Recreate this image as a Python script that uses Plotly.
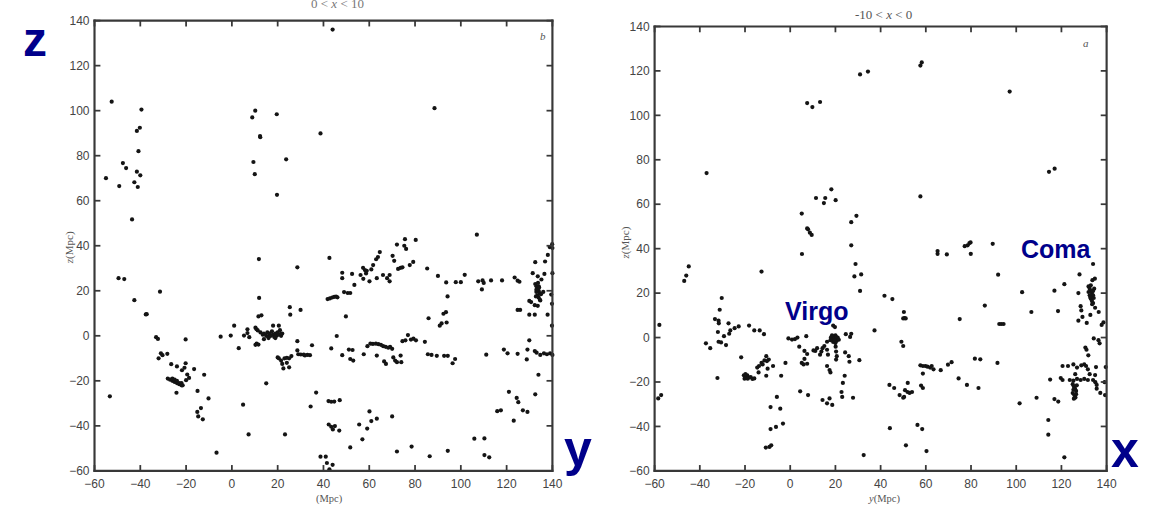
import plotly.graph_objects as go

# Galaxy positions (y, z) in Mpc for the slice 0 < x < 10 (panel b)
b_west_wall = [(-52.5, 104), (-39.5, 100.5), (-40.2, 92.4), (-41.5, 91), (-40.8, 82), (-47.6, 76.7),
               (-46.2, 74.5), (-55, 70), (-41.5, 72.9), (-40, 71.3), (-42.6, 68.2), (-41.1, 66.1),
               (-49.2, 66.5), (-43.6, 51.7), (-49.5, 25.6), (-47, 25.2), (-42.6, 15.8), (-37.6, 9.5),
               (-37.2, 9.6), (-31.4, 19.6), (-33.1, -0.6), (-32.3, -1.4), (-31, -7.8), (-32, -10),
               (-30.3, -8.6), (-28.2, -8), (-26.5, -12.6), (-24, -13.6), (-21.8, -15.3), (-20.2, -1.6),
               (-20.2, -12.2), (-20.7, -14.2), (-19.5, -17.2), (-18.7, -18.7), (-20, -19.7), (-16.5, -14.8),
               (-28, -19), (-27, -19.5), (-26, -19), (-26, -20), (-25, -20.5), (-25, -19.5), (-24, -21),
               (-24, -20), (-23, -21.5), (-23, -21), (-22, -22), (-22, -21), (-21.5, -22),
               (-24.2, -25.3), (-15, -24.5), (-12.1, -17.3), (-10.2, -27.8), (-15.1, -33.8), (-13.5, -32.1),
               (-14.7, -35.8), (-12.7, -37.1), (-6.7, -51.9), (-53.3, -26.9)]
b_local = [(-4.9, -0.4), (-0.5, 0.1), (1, 4.5), (3, -5.5), (5.3, 0.1), (6.8, 2.9), (7.6, -0.6), (6.8, 1.2),
           (4.9, -30.6), (7.3, -43.8), (8.9, 97), (10.2, 100), (9.4, 77.2), (10, 71.8), (12.3, 88.7),
           (12.4, 88.2), (19.6, 98.4), (23.7, 78.4), (19.7, 62.6), (11.8, 34.1), (11.9, 16.8), (11.6, 8.6),
           (12.9, 9.1), (10.3, 3.6), (10.8, 2.9), (11.3, 2.4), (10.8, -3.5), (11.6, -3.9), (10.3, -4),
           (15, -21.1), (12.5, 1.5), (13.5, 0.5), (14, 1), (15, 0), (15.5, 1.5), (16, -0.5), (16.5, 1),
           (17, 0), (17.5, 2), (18, 0.5), (18.5, -0.5), (19, 1), (19.5, 0), (20, 1.5), (20.5, 0.5),
           (21, 2.5), (21.5, 0), (22, 1), (18, 4.5), (20.5, 4.5), (14, -1.5), (16, -1), (19, -1),
           (21.5, 0.9), (20, -9.6), (20.5, -10), (21.5, -11), (22, -12.5), (23, -10), (24, -9.8),
           (25, -10), (26, -9), (22.5, -14.5), (24, -12), (25, -14), (23.2, -43.8), (25.3, 12.7),
           (25.5, 9.4), (28.6, 30.4), (30, 11.5), (28.6, -2.4), (28.6, -6.5), (29, -8.2), (30.1, -8.3),
           (31.4, -8.4), (31.9, -8.7), (35, -4.2), (34.1, -8.6), (33, -8.5), (34.4, -31.4), (36.8, -25.2),
           (38.7, 89.9), (44, 136)]
b_great_wall = [(42.6, 34.6), (43.4, -5.6), (45.8, -0.1), (41.8, 16.3), (42.8, 16.6), (43.8, 17), (44.7, 17.3),
                (45.5, 17.4), (46.1, 17.1), (48.2, 28), (48.2, 25.6), (49, 19.4), (50.6, 19), (51.7, 19),
                (49.8, 8.6), (48.2, -8.6), (51.1, -6.1), (52.7, -6.3), (51.7, -10.3), (53, -11),
                (52.5, 27.5), (53.5, 22.6), (56.2, 27), (57.3, 30.2), (58.1, 29.2), (58.6, 27.7),
                (57.4, 25.3), (58.9, 28.9), (60.1, 24.2), (60.9, 29.5), (61.7, 31.4), (63, 34), (63.8, 35),
                (64.6, 37.2), (63.3, 25.6), (66, 27), (67.8, 25.6), (68.9, 27), (68.9, 24.2), (70.2, 35.5),
                (70.9, 33.3), (72.1, 40.5), (72.6, 29.7), (73.7, 30.2), (74.5, 30.4), (75.3, 40), (75.6, 42.9),
                (76.1, 38.6), (77.7, 31.4), (79.2, 32.8), (80.3, 42.6), (57.6, -8.2), (59.2, -4.6),
                (60.5, -3.5), (61.6, -3.6), (62.9, -3.5), (64, -3.7), (65.1, -4), (66.1, -4.6), (67.2, -4.9),
                (68.3, -5.3), (69.1, -4.9), (70, -5.8), (63.3, -8.8), (66.5, -11.4), (67.3, -12.5),
                (70.5, -9.6), (71.3, -11), (72.1, -11.7), (73.7, -8.8), (74, -11.7), (74.5, -2.4),
                (75.8, -2), (76.9, 0.3), (78.2, -1.7), (79.3, -1.3), (80.4, -2), (84.3, -2.7), (85.6, -8.2),
                (87.2, -8.5), (89.5, -8.9), (92.7, -8.9), (94.3, -8.9), (96.4, -12.2), (97.5, -10.3),
                (88.5, 101.1), (85.3, 29.9), (85.9, 7.8), (90, 26.6), (93.6, 23.7), (94.2, 17.5), (90.8, 4.5),
                (91.6, 5.5), (92.4, 9.8), (93.5, 10.5), (93.8, 5.9), (97.8, 23.8), (100, 23.8), (101.7, 27.1),
                (107, 44.9), (107.6, 24.2), (109.5, 24.6), (110, 23.5), (109.2, 20.6), (113.2, 24.6),
                (118, 24.6), (123.5, 25.9), (124.8, 24.5), (125.6, 24)]
b_south = [(42.2, -29), (43.4, -29.3), (44.7, -29.2), (47.1, -28.6), (42.3, -39.4), (43.4, -40.4), (44.1, -41.6),
           (45, -40.1), (46.9, -42.1), (38.7, -53.7), (41, -53.7), (41.5, -56.5), (44, -57.3), (42.6, -59.3),
           (51.7, -49.6), (55.6, -39.4), (59.1, -41.2), (57, -46), (60.1, -33.6), (60.9, -37.9),
           (63.3, -36.8), (70, -35.8), (72.1, -51.4), (78.5, -49.2), (86.4, -53.5), (94.3, -51.1),
           (105.9, -45.7), (110.3, -45.6), (110.3, -53), (112.4, -54), (115.9, -33.5), (117.5, -33.1),
           (121, -24.9), (124.4, -27.6), (125.1, -29.5), (123.1, -37.7), (127.1, -33.1), (129.1, -33.8),
           (132.5, -26), (133.9, -17.3)]
b_coma = [(132.5, 23), (133, 22), (133.5, 21), (134, 20), (134.5, 19), (133, 19.5), (133.5, 18), (134, 17),
          (134.5, 16), (133, 20.5), (134, 22), (132.8, 17.5), (134.2, 21.5), (133.7, 23.5), (135, 18.5),
          (132.5, 32.7), (131.4, 27.8), (133.6, 26.4), (135.2, 25), (136.5, 27.5), (136.8, 33), (138, 35.9),
          (138.8, 39.4), (139.9, 40.7), (140, 39), (136, 19.5), (129.9, 15.5), (130.7, 15), (132.3, 13.6),
          (133.6, 13.3), (134.7, 15.7), (129.9, 9.4), (132.3, 9.4), (124.8, 11.5), (125.9, 11.5),
          (137.9, 9.4), (139.8, 14.2), (139.8, 4.5), (133.1, -7.5), (134.7, -8.5), (136.3, -7.8),
          (137.6, -8.2), (139, -7.8), (140, -8.5), (132.3, -6.8), (139.5, 18.3), (140, 27.8),
          (111.1, -8.4), (118.8, -6.1), (120.4, -7.8), (124.8, -8), (129.1, -6.1), (129.9, -2), (128.8, -10.5)]

# Galaxy positions (y, z) in Mpc for the slice -10 < x < 0 (panel a)
a_north = [(30.9, 118.4), (34.4, 119.7), (57.6, 122.4), (58.2, 123.8), (97.1, 110.7), (7.5, 105.5), (9.8, 103.7),
           (13.2, 106), (-37, 74), (114.5, 74.6), (117, 76), (57.6, 63.5), (18.2, 66.7), (11.4, 62.8),
           (15.5, 62.8), (14.9, 60.5), (20.1, 61.8), (5.1, 55.8), (29.3, 54.8), (27, 51.9), (7.5, 49.1),
           (7.9, 48.7), (8.7, 47.2), (9.5, 46.2), (5.2, 37.6), (27, 41.5), (28.9, 33.1), (28.4, 27.5),
           (31.4, 28.4), (30.9, 21), (41.7, 18.8), (45.2, 17.3), (37.3, 3.2), (50.3, 11.5), (50.6, 8.7),
           (50, 8.6), (51.1, 8.6), (65.2, 38.9), (65.2, 37.7), (69.3, 37.4), (77.2, 41.1), (78.5, 41.5),
           (79.3, 42.5), (79.8, 42.8), (79.9, 37.7), (89.6, 42.2), (92, 28.3), (102.6, 20.4), (86.1, 14.4),
           (75, 8.3), (92.5, 6.1), (93.4, 6.1), (94.4, 6.1), (106.7, 11.5), (116.9, 21.1), (121.3, 24),
           (118.5, 11.9), (-12.7, 29.7), (-46.9, 25.5), (-46, 27.9), (-44.9, 32)]
a_coma = [(132, 23), (132.5, 22), (133, 21), (133.5, 20), (134, 19), (132.5, 19), (133, 17.5), (133.5, 16.5),
          (134, 15.5), (134.5, 22), (132, 20.5), (134, 21), (133, 23.5), (132.8, 18), (134.3, 17.8),
          (133.6, 15), (128, 28.4), (134, 33.1), (133.7, 25.8), (134.8, 26.5), (127.5, 20), (128.5, 14.1),
          (128.8, 12.2), (129.3, 9.3), (127.5, 7.6), (131.2, 6.6), (132.8, 10.2), (134.9, 13.4),
          (136.5, 11.5), (137.8, 5.7), (138.6, 6.8), (134.3, -0.4), (136.9, -2.6), (136.4, -1.2),
          (130.6, -4.5), (131.1, -5.5), (131.9, -8), (139.6, -13.3), (135.3, -13.3), (134.9, -16.9),
          (134, -19.1), (135, -20.1), (135.6, -23), (137.2, -24.9), (135.6, -21.3), (139.1, -20.1),
          (139.3, -25.9), (130.1, -12.1), (130.9, -12.8), (131.7, -14.3), (132.5, -16.5), (128.8, -12.5),
          (130.1, -18.6), (131.7, -19.1), (120.5, -12.8), (122.9, -12.8), (125.3, -12.1), (126.9, -13.5),
          (119.7, -18.2), (120.5, -19.1), (123.7, -19.1), (125.3, -19.4), (126.9, -18.6), (128.5, -19.1),
          (126.1, -16.5), (125, -21), (125.5, -22), (126, -23), (126.5, -24), (125, -25), (125.8, -26),
          (126.2, -27), (125.3, -23.5), (126.8, -21.5), (125.5, -27.5), (126.5, -25.5), (115, -18.9),
          (109, -27.1), (101.5, -29.6), (116.9, -27.7), (118.6, -28.8), (114.2, -37.1), (114.2, -43.7),
          (121.3, -53.9)]
a_middle = [(91.7, -11.4), (81.7, -9.5), (84.1, -9.8), (83.3, -22.7), (78.2, -21.3), (74.5, -18.4), (69.8, -12.2),
            (71.4, -11.1), (57.6, -12.5), (58.7, -12.8), (59.8, -12.8), (60.7, -13.1), (61.9, -13.5),
            (62.6, -12.8), (63.4, -14.3), (66.6, -14.7), (58.7, -16.2), (57.9, -21.6), (58.7, -22.7),
            (43.9, -21.3), (46, -22.7), (48.4, -25.9), (50, -27.1), (50.4, -26.7), (51.9, -24.5),
            (52.8, -24.9), (53.9, -24.5), (50.8, -23.7), (52, -20.4), (49.2, -1.9), (50, -3.8),
            (44.1, -40.8), (56.3, -39.3), (58.4, -41.2), (51.2, -48.5), (60.3, -51.1), (32.5, -52.9),
            (30.6, -10.2)]
a_virgo = [(24.6, 1.5), (27, 1.7), (26.5, 0.3), (25.9, -8.4), (26.2, -10.9), (24.3, -6.7), (24.1, -17.2),
           (23.3, -20.4), (22.7, -24.5), (23, -26.7), (27.8, -27.1), (19, 5.4), (19.8, 4.7), (18, 0),
           (18.5, -1), (19, 0.5), (19.5, -0.5), (20, 1), (20.5, -1.5), (21, 0), (19, -2), (20, -2.5),
           (18.5, 1), (21.5, -1), (20.3, 0.2), (19.7, -1.2), (20.1, -4.1), (20.3, -6.3), (20.6, -8.4),
           (20.3, -9.9), (17.8, -1.2), (16.3, -1.9), (15.1, -3.8), (16.3, -5.5), (14.3, -4.8), (13.2, -7.7),
           (11.9, -4.8), (11.1, -6), (10.3, -5.8), (13.8, -6.3), (16.7, -7.7), (16.3, -12.8), (17.4, -14.6),
           (17.8, -15.7), (7.1, 0.6), (6.3, -6), (7.5, -7.4), (6.3, -9.6), (5.1, -11.4), (5.9, -12.1),
           (7.5, -11.8), (4, -4.1), (-0.8, -0.4), (0.8, -0.9), (2.1, -0.7), (3.2, 0), (-2.1, -11.4),
           (-4, -17.2), (4.4, -24.2), (7.9, -25.9), (14.3, -28.1), (16.3, -29.6), (18.6, -30.3),
           (17.4, -27.4)]
a_west = [(-5.9, -26.7), (-8.7, -31.3), (-4.4, -32), (-6.3, -40.2), (-8.7, -41.2), (-3.2, -38.7), (-10.8, -49.5),
          (-9.2, -49.2), (-8.4, -48.5), (-15.9, 3.2), (-13.5, 3.2), (-11.6, 1.5), (-10.6, -8.4), (-9.5, -9.9),
          (-11.4, -10.3), (-12.7, -11.4), (-12.2, -12.1), (-13.8, -12.8), (-14.6, -13.5), (-10.3, -10.6),
          (-10, -14), (-7.6, -12.8), (-10.6, -17.2), (-14, -15.7), (-21.7, -8.9), (-20.5, -17), (-20, -17.5),
          (-19.5, -18), (-19, -17), (-18.5, -18), (-19.8, -16.5), (-20.2, -18.5), (-18.8, -18.5),
          (-17.5, -17.8), (-16.7, -18.6), (-15.9, -18.4), (-18.2, 5.4), (-22.8, 5), (-24.6, 4.2),
          (-26.5, 3.2), (-27, 1.7), (-27.3, 6.4), (-29.3, 0.6), (-30.3, 17.8), (-31.2, 12.5), (-31.7, 7.6),
          (-31.6, 6.4), (-33.3, 8.3), (-32, 2.5), (-30.6, -2.2), (-28.4, -3.4), (-31.7, -1.9), (-37.3, -2.6),
          (-35.4, -4.8), (-32.2, -18.2), (-57.9, 5.7), (-57.1, -25.9), (-58.4, -27.4)]

tick_values = [-60, -40, -20, 0, 20, 40, 60, 80, 100, 120, 140]
axis_range = [-60, 140]

panel_b = b_west_wall + b_local + b_great_wall + b_south + b_coma
panel_a = a_north + a_coma + a_middle + a_virgo + a_west

W, H = 1152, 509
INK = "#141414"
NAVY = "#00008B"
FRAME = "#383838"

# plot-area boxes in page pixels: left, right, top, bottom
BOX_B = (86, 552, 14, 477)
BOX_A = (656, 1116, 20, 477)


def px_x(v):
    return v / W


def px_y(v):
    return 1 - v / H


fig = go.Figure()
for pts, xa, ya in [(panel_b, "x", "y"), (panel_a, "x2", "y2")]:
    fig.add_trace(go.Scatter(
        x=[p[0] for p in pts], y=[p[1] for p in pts], mode="markers",
        marker=dict(size=4.2, color=INK, line=dict(width=0)),
        xaxis=xa, yaxis=ya, cliponaxis=False, showlegend=False, hoverinfo="skip"))

axis_style = dict(
    range=axis_range, tickmode="array", tickvals=tick_values,
    ticks="", showline=False, showgrid=False, zeroline=False, ticklabelstandoff=4,
    tickfont=dict(family="Liberation Sans, Arial, sans-serif", size=12, color="#444"),
)

fig.update_layout(
    width=W, height=H, margin=dict(l=0, r=0, t=0, b=0),
    paper_bgcolor="white", plot_bgcolor="white",
    xaxis=dict(domain=[px_x(BOX_B[0]), px_x(BOX_B[1])], anchor="y", **axis_style),
    yaxis=dict(domain=[px_y(BOX_B[3]), px_y(BOX_B[2])], anchor="x", **axis_style),
    xaxis2=dict(domain=[px_x(BOX_A[0]), px_x(BOX_A[1])], anchor="y2", **axis_style),
    yaxis2=dict(domain=[px_y(BOX_A[3]), px_y(BOX_A[2])], anchor="x2", **axis_style),
)


def bar(x0, x1, y0, y1):
    # solid filled strip given in page pixels
    fig.add_shape(type="rect", xref="paper", yref="paper",
                  x0=px_x(x0), x1=px_x(x1), y0=px_y(y1), y1=px_y(y0),
                  fillcolor=FRAME, line=dict(width=0), layer="above")


# frame and inward ticks, drawn as filled strips
T, L, HW = 2.2, 6, 0.9
for left, right, top, bottom in (BOX_B, BOX_A):
    bar(left - T / 2, right + T / 2, top - T / 2, top + T / 2)
    bar(left - T / 2, right + T / 2, bottom - T / 2, bottom + T / 2)
    bar(left - T / 2, left + T / 2, top - T / 2, bottom + T / 2)
    bar(right - T / 2, right + T / 2, top - T / 2, bottom + T / 2)
    for v in tick_values:
        f = (v - axis_range[0]) / (axis_range[1] - axis_range[0])
        xp = left + f * (right - left)
        yp = bottom - f * (bottom - top)
        bar(xp - HW, xp + HW, bottom - L, bottom)
        bar(xp - HW, xp + HW, top, top + L)
        bar(left, left + L, yp - HW, yp + HW)
        bar(right - L, right, yp - HW, yp + HW)

serif = "Liberation Serif, Times New Roman, serif"
notes = [
    # slice headings
    dict(text="0 &lt; <i>x</i> &lt; 10", x=px_x(333), y=px_y(-4), xref="paper", yref="paper",
         font=dict(family=serif, size=13, color="#777")),
    dict(text="-10 &lt; <i>x</i> &lt; 0", x=px_x(889), y=px_y(8), xref="paper", yref="paper",
         font=dict(family=serif, size=13, color="#555")),
    # axis titles
    dict(text="<i>z</i>(Mpc)", x=px_x(60), y=px_y(247), xref="paper", yref="paper", textangle=-90,
         font=dict(family=serif, size=11, color="#555")),
    dict(text="<i>z</i>(Mpc)", x=px_x(626), y=px_y(243), xref="paper", yref="paper", textangle=-90,
         font=dict(family=serif, size=11, color="#555")),
    dict(text="(Mpc)", x=px_x(325), y=px_y(506), xref="paper", yref="paper",
         font=dict(family=serif, size=10.5, color="#555")),
    dict(text="<i>y</i>(Mpc)", x=px_x(889), y=px_y(506), xref="paper", yref="paper",
         font=dict(family=serif, size=10.5, color="#555")),
    # panel letters
    dict(text="<i>b</i>", x=136, y=133, xref="x", yref="y",
         font=dict(family=serif, size=11, color="#555")),
    dict(text="<i>a</i>", x=131, y=132.5, xref="x2", yref="y2",
         font=dict(family=serif, size=11, color="#555")),
    # axis letters and cluster names
    dict(text="<b>z</b>", x=px_x(25), y=px_y(33), xref="paper", yref="paper",
         font=dict(family="Liberation Sans, Arial, sans-serif", size=48, color=NAVY)),
    dict(text="<b>y</b>", x=px_x(578), y=px_y(454), xref="paper", yref="paper",
         font=dict(family="Liberation Sans, Arial, sans-serif", size=50, color=NAVY)),
    dict(text="<b>x</b>", x=px_x(1135), y=px_y(456), xref="paper", yref="paper",
         font=dict(family="Liberation Sans, Arial, sans-serif", size=50, color=NAVY)),
    dict(text="<b>Virgo</b>", x=11.7, y=12, xref="x2", yref="y2",
         font=dict(family="Liberation Sans, Arial, sans-serif", size=25, color=NAVY)),
    dict(text="<b>Coma</b>", x=118, y=40, xref="x2", yref="y2",
         font=dict(family="Liberation Sans, Arial, sans-serif", size=25, color=NAVY)),
]
for n in notes:
    fig.add_annotation(showarrow=False, xanchor="center", yanchor="middle", borderpad=0, **n)

fig.write_html("out.html")
